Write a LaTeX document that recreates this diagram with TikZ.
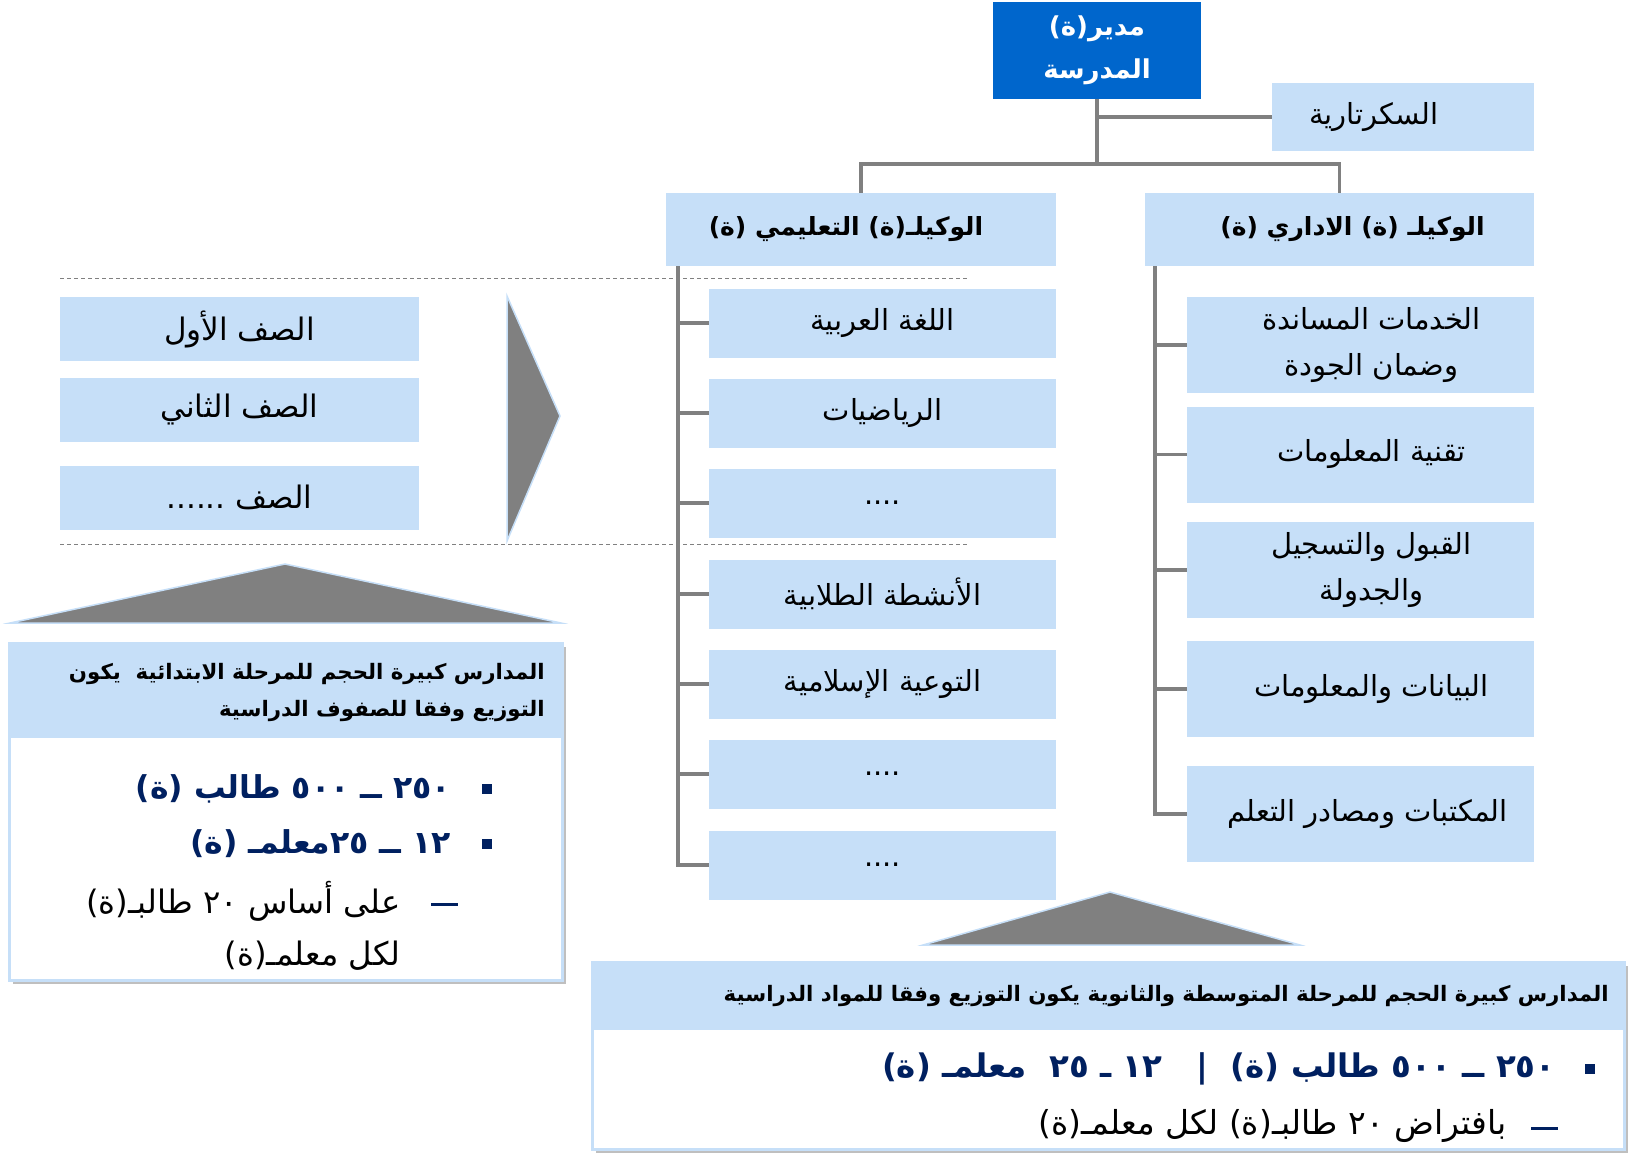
\documentclass[tikz,border=0pt]{standalone}
\usepackage{fontspec}
\TeXXeTstate=1
\newfontfamily\ar[Script=Arabic]{DejaVu Sans}
\usetikzlibrary{shadows}
\definecolor{lb}{HTML}{C6DFF8}
\definecolor{cg}{HTML}{808080}
\definecolor{navy}{HTML}{002060}
\definecolor{dirblue}{HTML}{0066CC}
\newcommand{\myrtl}[1]{\beginR #1\endR}
\begin{document}
\begin{tikzpicture}[x=1pt,y=-1pt,
  box/.style={fill=lb, inner sep=0pt, align=center, font=\ar\fontsize{29}{46}\selectfont},
  gbox/.style={box, font=\ar\fontsize{31}{40}\selectfont},
  hbox/.style={box, font=\ar\bfseries\fontsize{25}{32}\selectfont},
  conn/.style={draw=cg, line width=3.2pt},
  sepline/.style={draw=cg, line width=0.8pt, dash pattern=on 4pt off 3pt},
  tri/.style={fill=cg, draw=lb, line width=1.5pt},
  bul/.style={fill=navy, inner sep=0pt, minimum size=10pt},
  infohead/.style={inner sep=0pt, align=right, font=\ar\bfseries\fontsize{21.3}{37}\selectfont},
  infobul/.style={inner sep=0pt, align=right, text=navy, font=\ar\bfseries\fontsize{31.5}{40}\selectfont},
  infotxt/.style={inner sep=0pt, align=right, font=\ar\fontsize{32.3}{52}\selectfont},
  dashmark/.style={draw=navy, line width=3pt},
  shbox/.style={draw=lb, line width=3pt, fill=white, drop shadow={shadow xshift=4pt, shadow yshift=-4pt, opacity=0.5}},
]
\useasboundingbox (0,0) rectangle (1638,1152);

% dashed separators
\draw[sepline] (60,278) -- (969,278);
\draw[sepline] (60,544) -- (969,544);

% top of chart
\node[box, fill=dirblue, text=white, font=\ar\bfseries\fontsize{26}{43}\selectfont,
      minimum width=208pt, minimum height=97pt] (dir) at (1097,50.5)
      {\myrtl{مدير(ة)}\\\myrtl{المدرسة}};
\node[box, minimum width=262pt, minimum height=68pt] (sec) at (1403,117) {\myrtl{السكرتارية}\hspace*{58pt}};
\node[hbox, minimum width=389pt, minimum height=73pt] (adm) at (1339.5,229.5) {\hspace*{26pt}\myrtl{الوكيلـ (ة) الاداري (ة)}};
\node[hbox, minimum width=390pt, minimum height=73pt] (edu) at (861,229.5) {\myrtl{الوكيلـ(ة) التعليمي (ة)}\hspace*{30pt}};

\coordinate (jn) at (1097,164);
\draw[conn] (dir.south) -- (jn);
\draw[conn] (dir.south |- sec.west) -- (sec.west);
\draw[conn] (edu.north) |- (jn) -| (adm.north);

% admin children
\node[box, minimum width=347pt, minimum height=96pt] (a1) at (1360.5,345) {\hspace*{22pt}\myrtl{الخدمات المساندة}\\\hspace*{22pt}\myrtl{وضمان الجودة}};
\node[box, minimum width=347pt, minimum height=96pt] (a2) at (1360.5,454.5) {\hspace*{22pt}\myrtl{تقنية المعلومات}};
\node[box, minimum width=347pt, minimum height=96pt] (a3) at (1360.5,570) {\hspace*{22pt}\myrtl{القبول والتسجيل}\\\hspace*{22pt}\myrtl{والجدولة}};
\node[box, minimum width=347pt, minimum height=96pt] (a4) at (1360.5,689) {\hspace*{22pt}\myrtl{البيانات والمعلومات}};
\node[box, minimum width=347pt, minimum height=96pt] (a5) at (1360.5,814) {\hspace*{14pt}\myrtl{المكتبات ومصادر التعلم}};
\coordinate (as) at (1155,266);
\draw[conn] (as) |- (a5.west);
\foreach \i in {1,2,3,4} {\draw[conn] (as |- a\i.west) -- (a\i.west);}

% educational children
\node[box, minimum width=347pt, minimum height=69pt] (e1) at (882.5,323) {\myrtl{اللغة العربية}};
\node[box, minimum width=347pt, minimum height=69pt] (e2) at (882.5,413) {\myrtl{الرياضيات}};
\node[box, minimum width=347pt, minimum height=69pt] (e3) at (882.5,503) {....};
\node[box, minimum width=347pt, minimum height=69pt] (e4) at (882.5,594) {\myrtl{الأنشطة الطلابية}};
\node[box, minimum width=347pt, minimum height=69pt] (e5) at (882.5,684) {\myrtl{التوعية الإسلامية}};
\node[box, minimum width=347pt, minimum height=69pt] (e6) at (882.5,774) {....};
\node[box, minimum width=347pt, minimum height=69pt] (e7) at (882.5,865) {....};
\coordinate (es) at (678,266);
\draw[conn] (es) |- (e7.west);
\foreach \i in {1,2,3,4,5,6} {\draw[conn] (es |- e\i.west) -- (e\i.west);}

% grades
\node[gbox, minimum width=359pt, minimum height=64pt] (g1) at (239.5,329) {\myrtl{الصف الأول}};
\node[gbox, minimum width=359pt, minimum height=64pt] (g2) at (239.5,409.5) {\myrtl{الصف الثاني}};
\node[gbox, minimum width=359pt, minimum height=64pt] (g3) at (239.5,497.5) {\myrtl{الصف ......}};

% triangles
\draw[tri] (507,296) -- (560,416) -- (507,541) -- cycle;
\draw[tri] (10,623) -- (285,564) -- (561,623) -- cycle;
\draw[tri] (923,945) -- (1110,892) -- (1300,945) -- cycle;

% left info box
\draw[shbox] (9,643) rectangle (562,980);
\fill[lb] (9,643) rectangle (562,738);
\node[infohead, anchor=east] (lh) at (545,692)
  {\myrtl{المدارس كبيرة الحجم للمرحلة الابتدائية \ يكون}\\\myrtl{التوزيع وفقا للصفوف الدراسية}};
\node[bul] (lb1) at (487,789) {};
\node[bul] (lb2) at (487,844) {};
\node[infobul, anchor=east] (lt1) at (451,789) {\myrtl{٢٥٠ ــ ٥٠٠ طالب (ة)}};
\node[infobul, anchor=east] (lt2) at (451,844) {\myrtl{١٢ ــ ٢٥معلمـ (ة)}};
\coordinate (ld1) at (431,904);
\coordinate (ld2) at (458,904);
\draw[dashmark] (ld1) -- (ld2);
\node[infotxt, anchor=east] (lt3) at (401,926) {\myrtl{على أساس ٢٠ طالبـ(ة)}\\\myrtl{لكل معلمـ(ة)}};

% bottom info box
\draw[shbox] (592,962) rectangle (1624,1149);
\fill[lb] (592,962) rectangle (1624,1030);
\node[infohead, anchor=east] (bh) at (1609,996)
  {\myrtl{المدارس كبيرة الحجم للمرحلة المتوسطة والثانوية يكون التوزيع وفقا للمواد الدراسية}};
\node[bul] (bb1) at (1590,1069) {};
\node[infobul, font=\ar\bfseries\fontsize{32.5}{40}\selectfont, anchor=east] (bt1) at (1556,1069) {\myrtl{٢٥٠ ــ ٥٠٠ طالب (ة) \ | \ \ ١٢ ـ ٢٥ \ معلمـ (ة)}};
\coordinate (bd1) at (1531,1128);
\coordinate (bd2) at (1558,1128);
\draw[dashmark] (bd1) -- (bd2);
\node[infotxt, font=\ar\fontsize{33}{52}\selectfont, anchor=east] (bt2) at (1507,1126) {\myrtl{بافتراض ٢٠ طالبـ(ة) لكل معلمـ(ة)}};
\end{tikzpicture}
\end{document}
